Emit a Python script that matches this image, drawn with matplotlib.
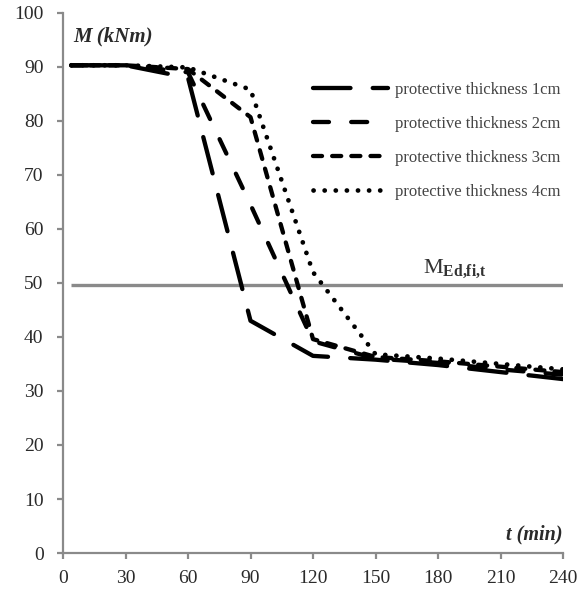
import matplotlib
matplotlib.use("Agg")
import matplotlib.pyplot as plt

plt.rcParams['font.family'] = ['Liberation Serif', 'DejaVu Serif']
plt.rcParams['mathtext.fontset'] = 'custom'
plt.rcParams['mathtext.rm'] = 'Liberation Serif'
plt.rcParams['mathtext.bf'] = 'Liberation Serif:bold'
plt.rcParams['lines.scale_dashes'] = False

# time (min) and bending resistance (kNm) for each protective thickness
t = [4, 30, 60, 90, 120, 150, 180, 210, 240]
m_1cm = [90.3, 90.3, 88.0, 43.0, 36.5, 35.8, 34.8, 33.5, 32.2]
m_2cm = [90.3, 90.3, 89.0, 64.5, 39.2, 36.0, 35.2, 34.0, 33.0]
m_3cm = [90.3, 90.3, 89.6, 80.7, 39.6, 36.3, 35.5, 34.5, 33.5]
m_4cm = [90.3, 90.3, 89.9, 85.8, 52.0, 36.8, 36.0, 35.0, 34.0]

m_ed = 49.7  # design moment in fire
labels = ['protective thickness 1cm', 'protective thickness 2cm',
          'protective thickness 3cm', 'protective thickness 4cm']

fig = plt.figure(figsize=(5.85, 5.89), dpi=100)
ax = fig.add_axes([0.1077, 0.0611, 0.8547, 0.9170])

gray = '#8a8a8a'
ax.plot([t[0], t[-1]], [m_ed, m_ed], color=gray, lw=2.4, solid_capstyle='butt')

styles = [(0, (27, 16)), (0, (11.5, 16)), (0, (6.5, 7.3)), (0, (0.1, 7.9))]
widths = [3.1, 3.1, 3.1, 3.4]
for m, ls, w, lab in zip([m_1cm, m_2cm, m_3cm, m_4cm], styles, widths, labels):
    ax.plot(t, m, color='black', lw=w, linestyle=ls,
            dash_capstyle='round', dash_joinstyle='round', label=lab)

ax.text(188, m_ed + 0.6, r'$\mathrm{M}_{\mathbf{Ed{,}fi{,}t}}$', fontsize=16,
        ha='center', va='bottom', color='#333333')

ax.set_xlim(0, 240)
ax.set_ylim(0, 100)
ax.set_xticks(range(0, 241, 30))
ax.set_yticks(range(0, 101, 10))

for side in ['top', 'right']:
    ax.spines[side].set_visible(False)
for side in ['left', 'bottom']:
    ax.spines[side].set_color(gray)
    ax.spines[side].set_linewidth(1.6)
ax.tick_params(direction='out', length=4, width=1.6, color=gray,
               labelsize=14, labelcolor='#2a2a2a')
ax.tick_params(axis='x', pad=8)
ax.tick_params(axis='y', pad=10)

ax.text(0.02, 0.975, 'M (kNm)', transform=ax.transAxes, fontsize=15,
        fontweight='bold', fontstyle='italic', ha='left', va='top',
        color='#2a2a2a')
ax.text(1.0, 0.015, 't (min)', transform=ax.transAxes, fontsize=14.5,
        fontweight='bold', fontstyle='italic', ha='right', va='bottom',
        color='#2a2a2a')

leg = ax.legend(loc='upper left', bbox_to_anchor=(0.5, 0.872), frameon=False,
                fontsize=12, handlelength=4.5, handletextpad=0.4,
                labelspacing=1.08, borderpad=0, borderaxespad=0)
for txt in leg.get_texts():
    txt.set_color('#444444')

fig.savefig('out.png', dpi=100)
